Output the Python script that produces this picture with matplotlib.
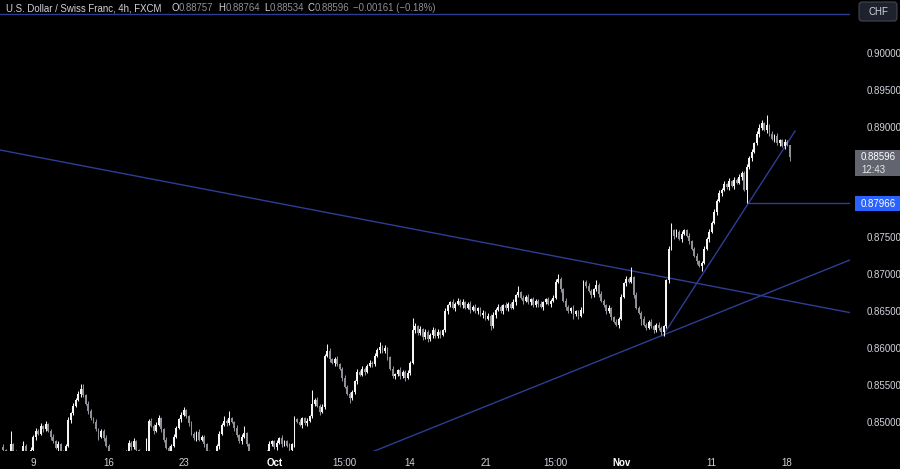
import numpy as np
import matplotlib
matplotlib.use("Agg")
import matplotlib.pyplot as plt
from matplotlib.patches import FancyBboxPatch, Rectangle
from matplotlib.transforms import IdentityTransform

# USD/CHF 4h candles, 5 Sep - 18 Nov (index = 4h candle number)
first_open = 0.8466
closes = [
    0.8462, 0.8455, 0.8448, 0.8470, 0.8458, 0.8445, 0.8438, 0.8450, 0.8468, 0.8455,
    0.8448, 0.8462, 0.8480, 0.8488, 0.8484, 0.8494, 0.8490, 0.8497, 0.8488, 0.8480,
    0.8474, 0.8465, 0.8470, 0.8460, 0.8455, 0.8468, 0.8503, 0.8512, 0.8522, 0.8530,
    0.8538, 0.8545, 0.8536, 0.8525, 0.8515, 0.8505, 0.8500, 0.8490, 0.8480, 0.8488,
    0.8478, 0.8468, 0.8455, 0.8448, 0.8440, 0.8432, 0.8440, 0.8445, 0.8452, 0.8460,
    0.8472, 0.8466, 0.8474, 0.8462, 0.8450, 0.8445, 0.8452, 0.8460, 0.8502, 0.8495,
    0.8488, 0.8496, 0.8505, 0.8490, 0.8475, 0.8465, 0.8458, 0.8468, 0.8480, 0.8492,
    0.8504, 0.8510, 0.8516, 0.8508, 0.8498, 0.8484, 0.8478, 0.8486, 0.8476, 0.8480,
    0.8470, 0.8458, 0.8448, 0.8440, 0.8450, 0.8468, 0.8484, 0.8496, 0.8502, 0.8498,
    0.8505, 0.8500, 0.8492, 0.8482, 0.8474, 0.8480, 0.8485, 0.8470, 0.8455, 0.8445,
    0.8438, 0.8430, 0.8436, 0.8442, 0.8450, 0.8460, 0.8470, 0.8474, 0.8466, 0.8472,
    0.8478, 0.8470, 0.8474, 0.8468, 0.8462, 0.8470, 0.8504, 0.8500, 0.8496, 0.8505,
    0.8498, 0.8502, 0.8508, 0.8525, 0.8530, 0.8522, 0.8514, 0.8520, 0.8590, 0.8596,
    0.8585, 0.8580, 0.8586, 0.8578, 0.8572, 0.8560, 0.8548, 0.8538, 0.8532, 0.8540,
    0.8555, 0.8568, 0.8564, 0.8572, 0.8568, 0.8576, 0.8580, 0.8578, 0.8590, 0.8598,
    0.8602, 0.8596, 0.8600, 0.8588, 0.8572, 0.8562, 0.8565, 0.8570, 0.8562, 0.8568,
    0.8560, 0.8566, 0.8580, 0.8625, 0.8630, 0.8620, 0.8626, 0.8615, 0.8622, 0.8612,
    0.8618, 0.8625, 0.8616, 0.8622, 0.8618, 0.8624, 0.8650, 0.8658, 0.8662, 0.8655,
    0.8660, 0.8664, 0.8658, 0.8662, 0.8655, 0.8660, 0.8652, 0.8656, 0.8650, 0.8654,
    0.8645, 0.8648, 0.8640, 0.8644, 0.8630, 0.8645, 0.8652, 0.8656, 0.8650, 0.8658,
    0.8654, 0.8660, 0.8655, 0.8662, 0.8672, 0.8676, 0.8668, 0.8664, 0.8670, 0.8662,
    0.8666, 0.8658, 0.8664, 0.8660, 0.8656, 0.8662, 0.8666, 0.8660, 0.8664, 0.8668,
    0.8690, 0.8694, 0.8680, 0.8664, 0.8656, 0.8650, 0.8654, 0.8646, 0.8650, 0.8644,
    0.8652, 0.8690, 0.8684, 0.8678, 0.8672, 0.8680, 0.8686, 0.8674, 0.8664, 0.8658,
    0.8650, 0.8654, 0.8642, 0.8636, 0.8632, 0.8640, 0.8670, 0.8688, 0.8694, 0.8690,
    0.8696, 0.8672, 0.8655, 0.8648, 0.8640, 0.8632, 0.8628, 0.8636, 0.8630, 0.8624,
    0.8632, 0.8628, 0.8622, 0.8630, 0.8692, 0.8735, 0.8760, 0.8752, 0.8758, 0.8748,
    0.8755, 0.8760, 0.8752, 0.8745, 0.8735, 0.8725, 0.8718, 0.8712, 0.8716, 0.8735,
    0.8748, 0.8758, 0.8770, 0.8785, 0.8800, 0.8810, 0.8815, 0.8822, 0.8818, 0.8826,
    0.8820, 0.8828, 0.8824, 0.8832, 0.8838, 0.8815, 0.8845, 0.8858, 0.8866, 0.8878,
    0.8890, 0.8898, 0.8905, 0.8896, 0.8902, 0.8890, 0.8884, 0.8888, 0.8878, 0.8882,
    0.8874, 0.8880, 0.88757, 0.88596,
]
# wick lengths beyond the body, one digit per candle, in units of wick_unit
wick_unit = 0.0002
wick_up = [
    "2119121231", "1212121211", "2121112121", "2331211211", "1211211121",
    "2121112912", "1221121121", "1221121121", "1121112131", "5112125111",
    "1211212112", "1211212121", "1219121215", "2112112112", "1212112121",
    "3121121121", "1218212121", "1212112112", "1212112121", "1212121211",
    "2112141212", "1211211212", "2311211211", "2112113121", "1211212121",
    "7121121121", "1211125121", "2112112112", "1212121212", "1212112121",
    "2321712121", "1210",
]
wick_down = [
    "2121121211", "2112112112", "1121211211", "1211211121", "2112121121",
    "1211211121", "2112112111", "1211211211", "2112112112", "1121121121",
    "2112112112", "1211212112", "1211212111", "2121121131", "1211211211",
    "2112112121", "2111211212", "1211211211", "2112112112", "1211312112",
    "1211211211", "2112121121", "1121211312", "1211211211", "2121121121",
    "1211412112", "1223121211", "2112112141", "1211212112", "1211219121",
    "1211211212", "1213",
]

# drawings: (candle index, price) end points
desc_line = ([-2, 340], [0.88691, 0.86463])
support_line = ([140, 340], [0.84500, 0.87236])
steep_line = ([262.6, 315.2], [0.86170, 0.88943])
level_line = ([296.5, 340], [0.87966, 0.87966])
top_level = 0.90528

y_ticks = [0.850, 0.855, 0.860, 0.865, 0.870, 0.875, 0.890, 0.895, 0.900]
x_tick_pos = [12, 42, 72, 108, 135.75, 162, 192, 219.75, 246, 282, 312]
x_tick_lab = ["9", "16", "23", "Oct", "15:00", "14", "21", "15:00", "Nov", "11", "18"]

last_price = "0.88596"
countdown = "12:43"
level_label = "0.87966"

W, H = 900, 469
up_color = "#f4f4f4"
down_color = "#8e9098"
line_color = "#2e3d96"
text_color = "#d1d4dc"
font = "Liberation Sans"

closes = np.array(closes)
opens = np.concatenate([[first_open], closes[:-1]])
up = np.array([int(c) for c in "".join(wick_up)]) * wick_unit
dn = np.array([int(c) for c in "".join(wick_down)]) * wick_unit
assert len(up) == len(closes) == len(dn)
highs = np.maximum(opens, closes) + up
lows = np.minimum(opens, closes) - dn
idx = np.arange(len(closes))
colors = np.where(closes >= opens, up_color, down_color)

fig = plt.figure(figsize=(W / 100, H / 100), dpi=100, facecolor="black")
bottom = 18 / H
ax = fig.add_axes([0, bottom, 850 / W, 1 - bottom])
ax.set_facecolor("black")

ax.vlines(idx, lows, highs, colors=colors, linewidth=0.75, zorder=3)
ax.bar(idx, np.maximum(np.abs(closes - opens), 0.00008), bottom=np.minimum(opens, closes),
       width=0.75, color=colors, linewidth=0, zorder=3)

for xs, ys in (desc_line, support_line, steep_line, level_line):
    ax.plot(xs, ys, color=line_color, linewidth=1.0, zorder=2)
ax.axhline(top_level, color=line_color, linewidth=1.0, zorder=2)

ax.set_xlim(-1.19, 337.05)
ax.set_ylim(0.84607, 0.907182)

ax.yaxis.tick_right()
ax.set_yticks(y_ticks)
ax.set_yticklabels([f"{v:.5f}" for v in y_ticks])
ax.set_xticks(x_tick_pos)
ax.set_xticklabels(x_tick_lab)
ax.tick_params(axis="y", length=0, pad=12, labelsize=7, labelcolor=text_color)
ax.tick_params(axis="x", length=0, pad=5, labelsize=7, labelcolor=text_color)
for lab in ax.get_xticklabels() + ax.get_yticklabels():
    lab.set_fontfamily(font)
for lab in ax.get_xticklabels():
    if lab.get_text() in ("Oct", "Nov"):
        lab.set_fontweight("bold")
        lab.set_color("white")
for s in ax.spines.values():
    s.set_visible(False)

px = IdentityTransform()


def ptext(x, y, s, **kw):
    # y measured from the top, in pixels
    fig.text(x, H - y, s, transform=px, fontfamily=font, va="center", **kw)


# header
hs = 6.95
ptext(6, 8, "U.S. Dollar / Swiss Franc, 4h, FXCM", color=text_color, fontsize=hs)
for x0, letter, x1, val in ((171, "O", 179, "0.88757"), (218, "H", 226, "0.88764"),
                            (264, "L", 270, "0.88534"), (308, "C", 315, "0.88596")):
    ptext(x0, 8, letter, color=text_color, fontsize=hs)
    ptext(x1, 8, val, color=down_color, fontsize=hs)
ptext(353, 8, "\u22120.00161 (\u22120.18%)", color=down_color, fontsize=hs)

# price axis badges
fig.add_artist(FancyBboxPatch((859, H - 21), 38, 19, boxstyle="round,pad=0,rounding_size=3",
                              transform=px, facecolor="#1e222d", edgecolor="#434651", linewidth=0.8))
ptext(878, 11.5, "CHF", color=text_color, fontsize=7, ha="center")

fig.add_artist(Rectangle((855, H - 176), 45, 26, transform=px, facecolor="#62656f", edgecolor="none"))
ptext(861, 157, last_price, color="white", fontsize=7)
ptext(861, 170, countdown, color="#e8e8e8", fontsize=7)

fig.add_artist(Rectangle((855, H - 211), 45, 15, transform=px, facecolor="#2962ff", edgecolor="none"))
ptext(861, 203.5, level_label, color="white", fontsize=7)

fig.savefig("out.png", dpi=100, facecolor="black")
